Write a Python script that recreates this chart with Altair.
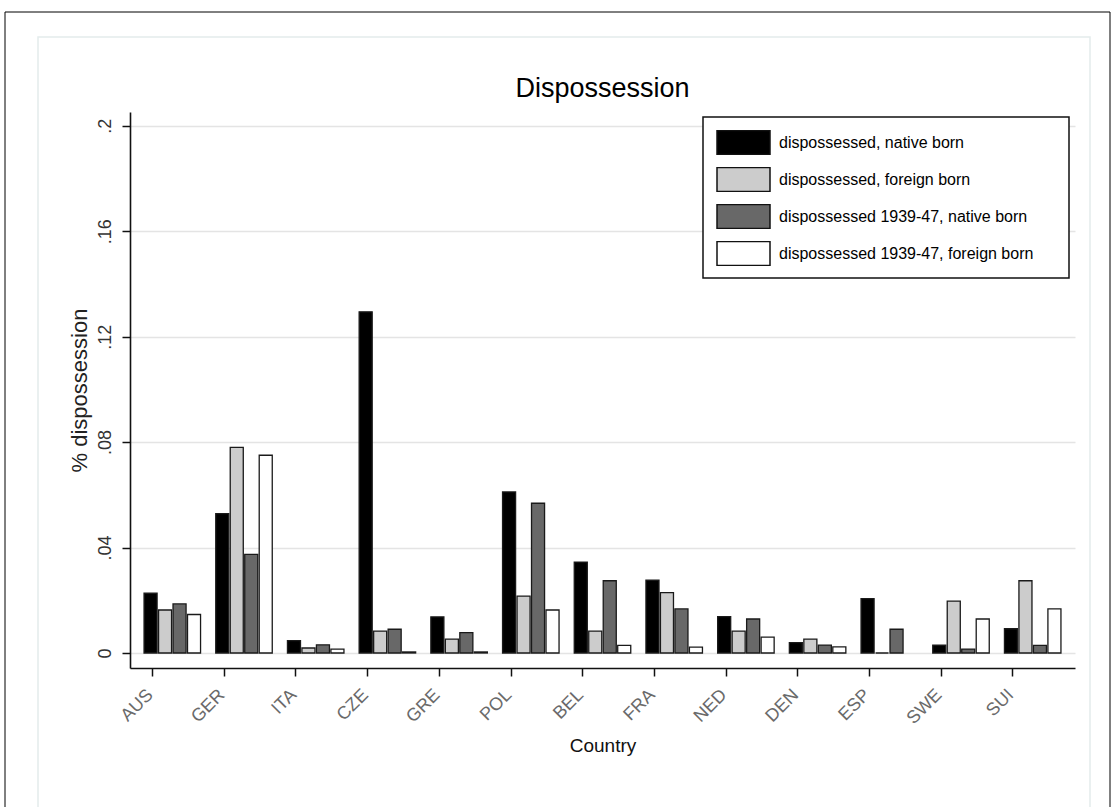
import altair as alt
import pandas as pd

countries = ["AUS", "GER", "ITA", "CZE", "GRE", "POL", "BEL", "FRA", "NED", "DEN", "ESP", "SWE", "SUI"]
series = [
    "dispossessed, native born",
    "dispossessed, foreign born",
    "dispossessed 1939-47, native born",
    "dispossessed 1939-47, foreign born",
]
native = [0.0227, 0.0529, 0.0047, 0.1294, 0.0137, 0.0611, 0.0345, 0.0276, 0.0138, 0.0039, 0.0206, 0.0030, 0.0092]
foreign = [0.0163, 0.0780, 0.0019, 0.0083, 0.0053, 0.0216, 0.0083, 0.0229, 0.0083, 0.0053, 0.0, 0.0197, 0.0274]
native_3947 = [0.0186, 0.0374, 0.0031, 0.0090, 0.0077, 0.0568, 0.0274, 0.0167, 0.0129, 0.0030, 0.0090, 0.0015, 0.0029]
foreign_3947 = [0.0146, 0.0750, 0.0015, 0.0004, 0.0004, 0.0163, 0.0029, 0.0022, 0.0060, 0.0023, None, 0.0129, 0.0167]
colors = ["#000000", "#cccccc", "#686868", "#ffffff"]
y_ticks = [0, 0.04, 0.08, 0.12, 0.16, 0.2]
chart_title = "Dispossession"

rows = []
for vals, s in zip([native, foreign, native_3947, foreign_3947], series):
    for c, v in zip(countries, vals):
        rows.append({"country": c, "series": s, "value": v})
df = pd.DataFrame(rows)

FONT = "Liberation Sans"

bars = alt.Chart(df).mark_bar(stroke="#1a1a1a", strokeWidth=1.3).encode(
    x=alt.X("country:N", sort=countries, title="Country",
            scale=alt.Scale(paddingInner=0.212, paddingOuter=0.196),
            axis=alt.Axis(labelAngle=315, labelAlign="right", labelBaseline="middle",
                          tickOffset=-20.3, labelOffset=-2, tickSize=8, tickColor="#111",
                          tickWidth=1.5, domainColor="#111", domainWidth=1.6,
                          labelColor="#6a6a6a", labelFontSize=18, labelFont=FONT,
                          labelPadding=16, titleFont=FONT, titleFontSize=19,
                          titleFontWeight="normal", titleColor="#111", titlePadding=9,
                          grid=False)),
    xOffset=alt.XOffset("series:N", sort=series, scale=alt.Scale(paddingInner=0.1)),
    y=alt.Y("value:Q", title="% dispossession",
            scale=alt.Scale(domain=[-0.00569, 0.2052], nice=False, zero=False),
            axis=alt.Axis(values=y_ticks,
                          labelExpr="datum.value == 0 ? '0' : slice(format(datum.value, '.2~f'), 1)",
                          labelAngle=270, tickSize=8, tickColor="#111", tickWidth=1.5,
                          domainColor="#111", domainWidth=1.6, gridColor="#e4e4e4",
                          gridWidth=1.5, labelColor="#333333", labelFontSize=18,
                          labelFont=FONT, labelPadding=8, titleFont=FONT, titleFontSize=22,
                          titleFontWeight="normal", titleColor="#222", titlePadding=5)),
    y2=alt.datum(0),
    fill=alt.Fill("series:N", sort=series,
                  scale=alt.Scale(domain=series, range=colors),
                  legend=alt.Legend(orient="none", legendX=586, legendY=18, title=None,
                                    symbolType="M-1,-0.45H1V0.45H-1Z", symbolSize=2809,
                                    symbolStrokeColor="#111", symbolStrokeWidth=1.5,
                                    symbolOpacity=1, clipHeight=25, rowPadding=12,
                                    labelOffset=8, padding=0, labelFontSize=16,
                                    labelFont=FONT, labelColor="#000", labelLimit=400)),
)

one = alt.Data(values=[{"k": 1}])
outer = alt.Chart(one).mark_rect(fillOpacity=0, stroke="#000", strokeWidth=1).encode(
    x=alt.value(-125), x2=alt.value(980), y=alt.value(-100), y2=alt.value(760))
inner = alt.Chart(one).mark_rect(fillOpacity=0, stroke="#e3ecec", strokeWidth=1.5).encode(
    x=alt.value(-92), x2=alt.value(960), y=alt.value(-75), y2=alt.value(760))
legend_box = alt.Chart(one).mark_rect(fill="white", stroke="#111", strokeWidth=1.5).encode(
    x=alt.value(573), x2=alt.value(939), y=alt.value(5), y2=alt.value(166))
title = alt.Chart(one).mark_text(font=FONT, fontSize=27, color="#000", align="center",
                                 baseline="alphabetic").encode(
    x=alt.value(472.5), y=alt.value(-15), text=alt.value(chart_title))

chart = alt.layer(outer, inner, bars, legend_box, title).properties(
    width=945, height=556,
    padding={"left": 130, "top": 112, "right": 41, "bottom": 139},
    autosize=alt.AutoSizeParams(type="none"),
    background="white",
).configure_view(stroke=None)

chart.save("out.html", embed_options={"renderer": "svg", "actions": False})
